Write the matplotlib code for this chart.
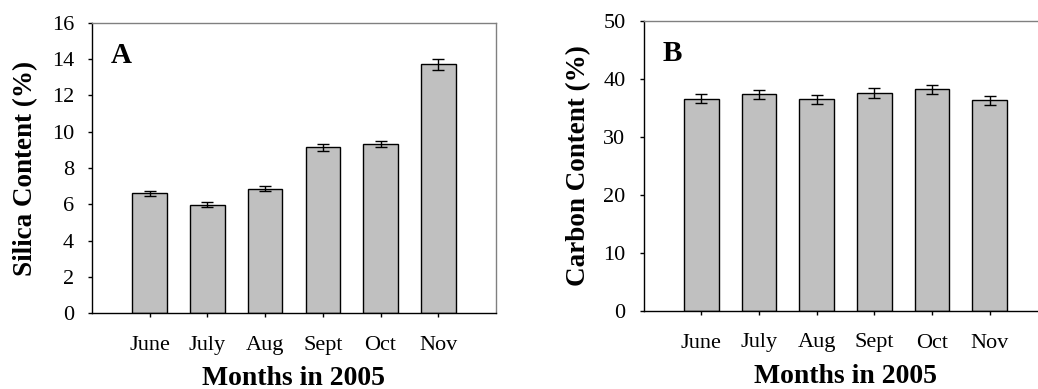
import matplotlib
matplotlib.use("Agg")
import matplotlib.pyplot as plt

plt.rcParams["font.family"] = ["Liberation Serif", "DejaVu Serif"]

months = ["June", "July", "Aug", "Sept", "Oct", "Nov"]
silica = [6.6, 5.97, 6.86, 9.14, 9.32, 13.7]
silica_err = [0.14, 0.14, 0.15, 0.19, 0.19, 0.28]
carbon = [36.55, 37.3, 36.5, 37.55, 38.17, 36.28]
carbon_err = [0.78, 0.8, 0.78, 0.8, 0.8, 0.78]


def draw_panel(ax, values, errors, ymax, ystep, ylabel, tag, ylpad):
    x = list(range(1, len(months) + 1))
    ax.bar(x, values, width=0.6, color="#c0c0c0", edgecolor="black",
           linewidth=1.0, zorder=2)
    ax.errorbar(x, values, yerr=errors, fmt="none", ecolor="black",
                elinewidth=1.0, capsize=4.5, capthick=1.0, zorder=3)
    ax.set_xlim(0, 7)
    ax.set_ylim(0, ymax)
    ax.set_xticks(x)
    ax.set_xticklabels(months)
    ax.set_yticks(range(0, ymax + 1, ystep))
    ax.tick_params(axis="both", direction="out", length=3.2, width=1,
                   labelsize=16)
    ax.tick_params(axis="x", pad=13)
    ax.tick_params(axis="y", pad=9.8)
    for side in ("top", "right"):
        ax.spines[side].set_color("#808080")
    for side in ("left", "bottom"):
        ax.spines[side].set_color("black")
    for sp in ax.spines.values():
        sp.set_linewidth(1.0)
    ax.set_ylabel(ylabel, fontsize=19.5, fontweight="bold", labelpad=ylpad)
    ax.set_xlabel("Months in 2005", fontsize=20, fontweight="bold",
                  labelpad=8)
    ax.text(0.046, 0.935, tag, transform=ax.transAxes, ha="left", va="top",
            fontsize=21, fontweight="bold")


fig = plt.figure(figsize=(10.38, 3.89), dpi=100)
W, H = 1038, 389
ax_a = fig.add_axes([92 / W, 1 - 313.3 / H, 404 / W, 290.6 / H])
ax_b = fig.add_axes([643.5 / W, 1 - 311 / H, 404 / W, 290.3 / H])

draw_panel(ax_a, silica, silica_err, 16, 2, "Silica Content (%)", "A", 10)
draw_panel(ax_b, carbon, carbon_err, 50, 10, "Carbon Content (%)", "B", 9)

fig.savefig("out.png", dpi=100)
